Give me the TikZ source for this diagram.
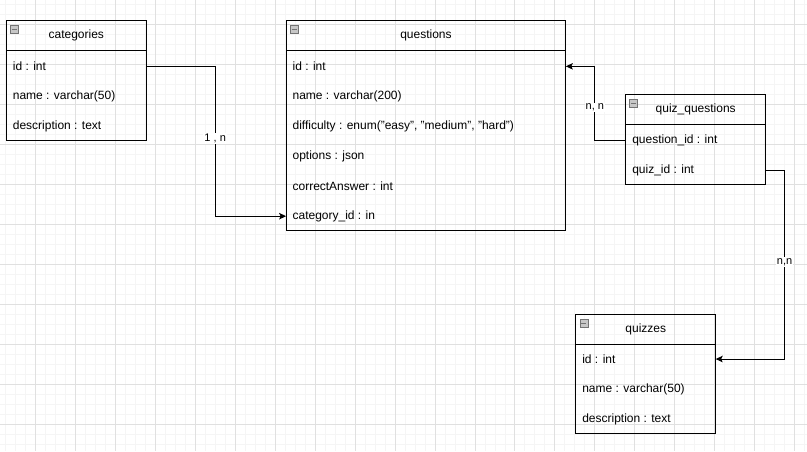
\documentclass[tikz,border=0pt]{standalone}
\usepackage{fontspec}
\setmainfont{Liberation Sans}
\usetikzlibrary{arrows.meta,positioning}

\tikzset{
  minorgrid/.style={draw=black!4, line width=0.8pt},
  majorgrid/.style={draw=black!12, line width=0.8pt},
  head/.style={draw, anchor=north west, minimum height=30pt, inner sep=0pt, outer sep=0pt},
  body/.style={draw, minimum height=#1, inner sep=0pt, outer sep=0pt},
  field/.style={anchor=west, inner sep=0pt},
  minusicon/.style={draw=black!55, fill=black!22, line width=0.6pt, minimum size=8pt, inner sep=0pt,
    path picture={\draw[line width=1pt] ([xshift=1.6pt]path picture bounding box.west) -- ([xshift=-1.6pt]path picture bounding box.east);}},
  link/.style={-{Stealth[length=7pt,width=6.5pt,inset=1.5pt]}, line width=1pt},
  lbl/.style={fill=white, inner sep=1pt, font=\fontsize{11}{13}\selectfont}
}

\begin{document}
\begin{tikzpicture}[x=1pt, y=-1pt, line width=1pt, font=\fontsize{12}{14}\selectfont]
  % background grid
  \fill[white] (0,0) rectangle (807,451);
  \foreach \x in {5,15,...,805} \draw[minorgrid] (\x,0) -- (\x,451);
  \foreach \y in {4,14,...,444} \draw[minorgrid] (0,\y) -- (807,\y);
  \foreach \x in {35,75,...,795} \draw[majorgrid] (\x,0) -- (\x,451);
  \foreach \y in {24,64,...,424} \draw[majorgrid] (0,\y) -- (807,\y);
  \useasboundingbox (0,0) rectangle (807,451);

  % categories
  \node[head, minimum width=140pt] (cat) at (6,20) {categories};
  \node[body=90pt, minimum width=140pt, below=0pt of cat] (catbody) {};
  \node[minusicon] (caticon) at ([shift={(8,9)}]cat.north west) {};
  \node[field] (catid) at (12,66) {id : int};
  \node[field] (catname) at (12,96) {name : varchar(50)};
  \node[field] (catdesc) at (12,126) {description : text};

  % questions
  \node[head, minimum width=280pt] (q) at (286,20) {questions};
  \node[body=180pt, minimum width=280pt, below=0pt of q] (qbody) {};
  \node[minusicon] (qicon) at ([shift={(8,9)}]q.north west) {};
  \node[field] (qid) at (292,66) {id : int};
  \node[field] (qname) at (292,96) {name : varchar(200)};
  \node[field] (qdiff) at (292,126) {difficulty : enum("easy", "medium", "hard")};
  \node[field] (qopt) at (292,156) {options : json};
  \node[field] (qans) at (292,186) {correctAnswer : int};
  \node[field] (qcat) at (292,216) {category\_id : in};

  % quiz_questions
  \node[head, minimum width=140pt] (qq) at (626,94) {quiz\_questions};
  \node[body=60pt, minimum width=140pt, below=0pt of qq] (qqbody) {};
  \node[minusicon] (qqicon) at ([shift={(8,9)}]qq.north west) {};
  \node[field] (qqqid) at (632,140) {question\_id : int};
  \node[field] (qqquiz) at (632,170) {quiz\_id : int};

  % quizzes
  \node[head, minimum width=140pt] (z) at (576,314) {quizzes};
  \node[body=90pt, minimum width=140pt, below=0pt of z] (zbody) {};
  \node[minusicon] (zicon) at ([shift={(8,9)}]z.north west) {};
  \node[field] (zid) at (582,359) {id : int};
  \node[field] (zname) at (582,389) {name : varchar(50)};
  \node[field] (zdesc) at (582,419) {description : text};

  % relations
  \draw[link] (catbody.east |- catid) -| (215,138) node[lbl] {1 , n} |- (qbody.west |- qcat);
  \draw[link] (qqbody.west |- qqqid) -| (595,107) node[lbl] {n, n} |- (qbody.east |- qid);
  \draw[link] (qqbody.east |- qqquiz) -| (785,262) node[lbl] {n,n} |- (zbody.east |- zid);
\end{tikzpicture}
\end{document}
